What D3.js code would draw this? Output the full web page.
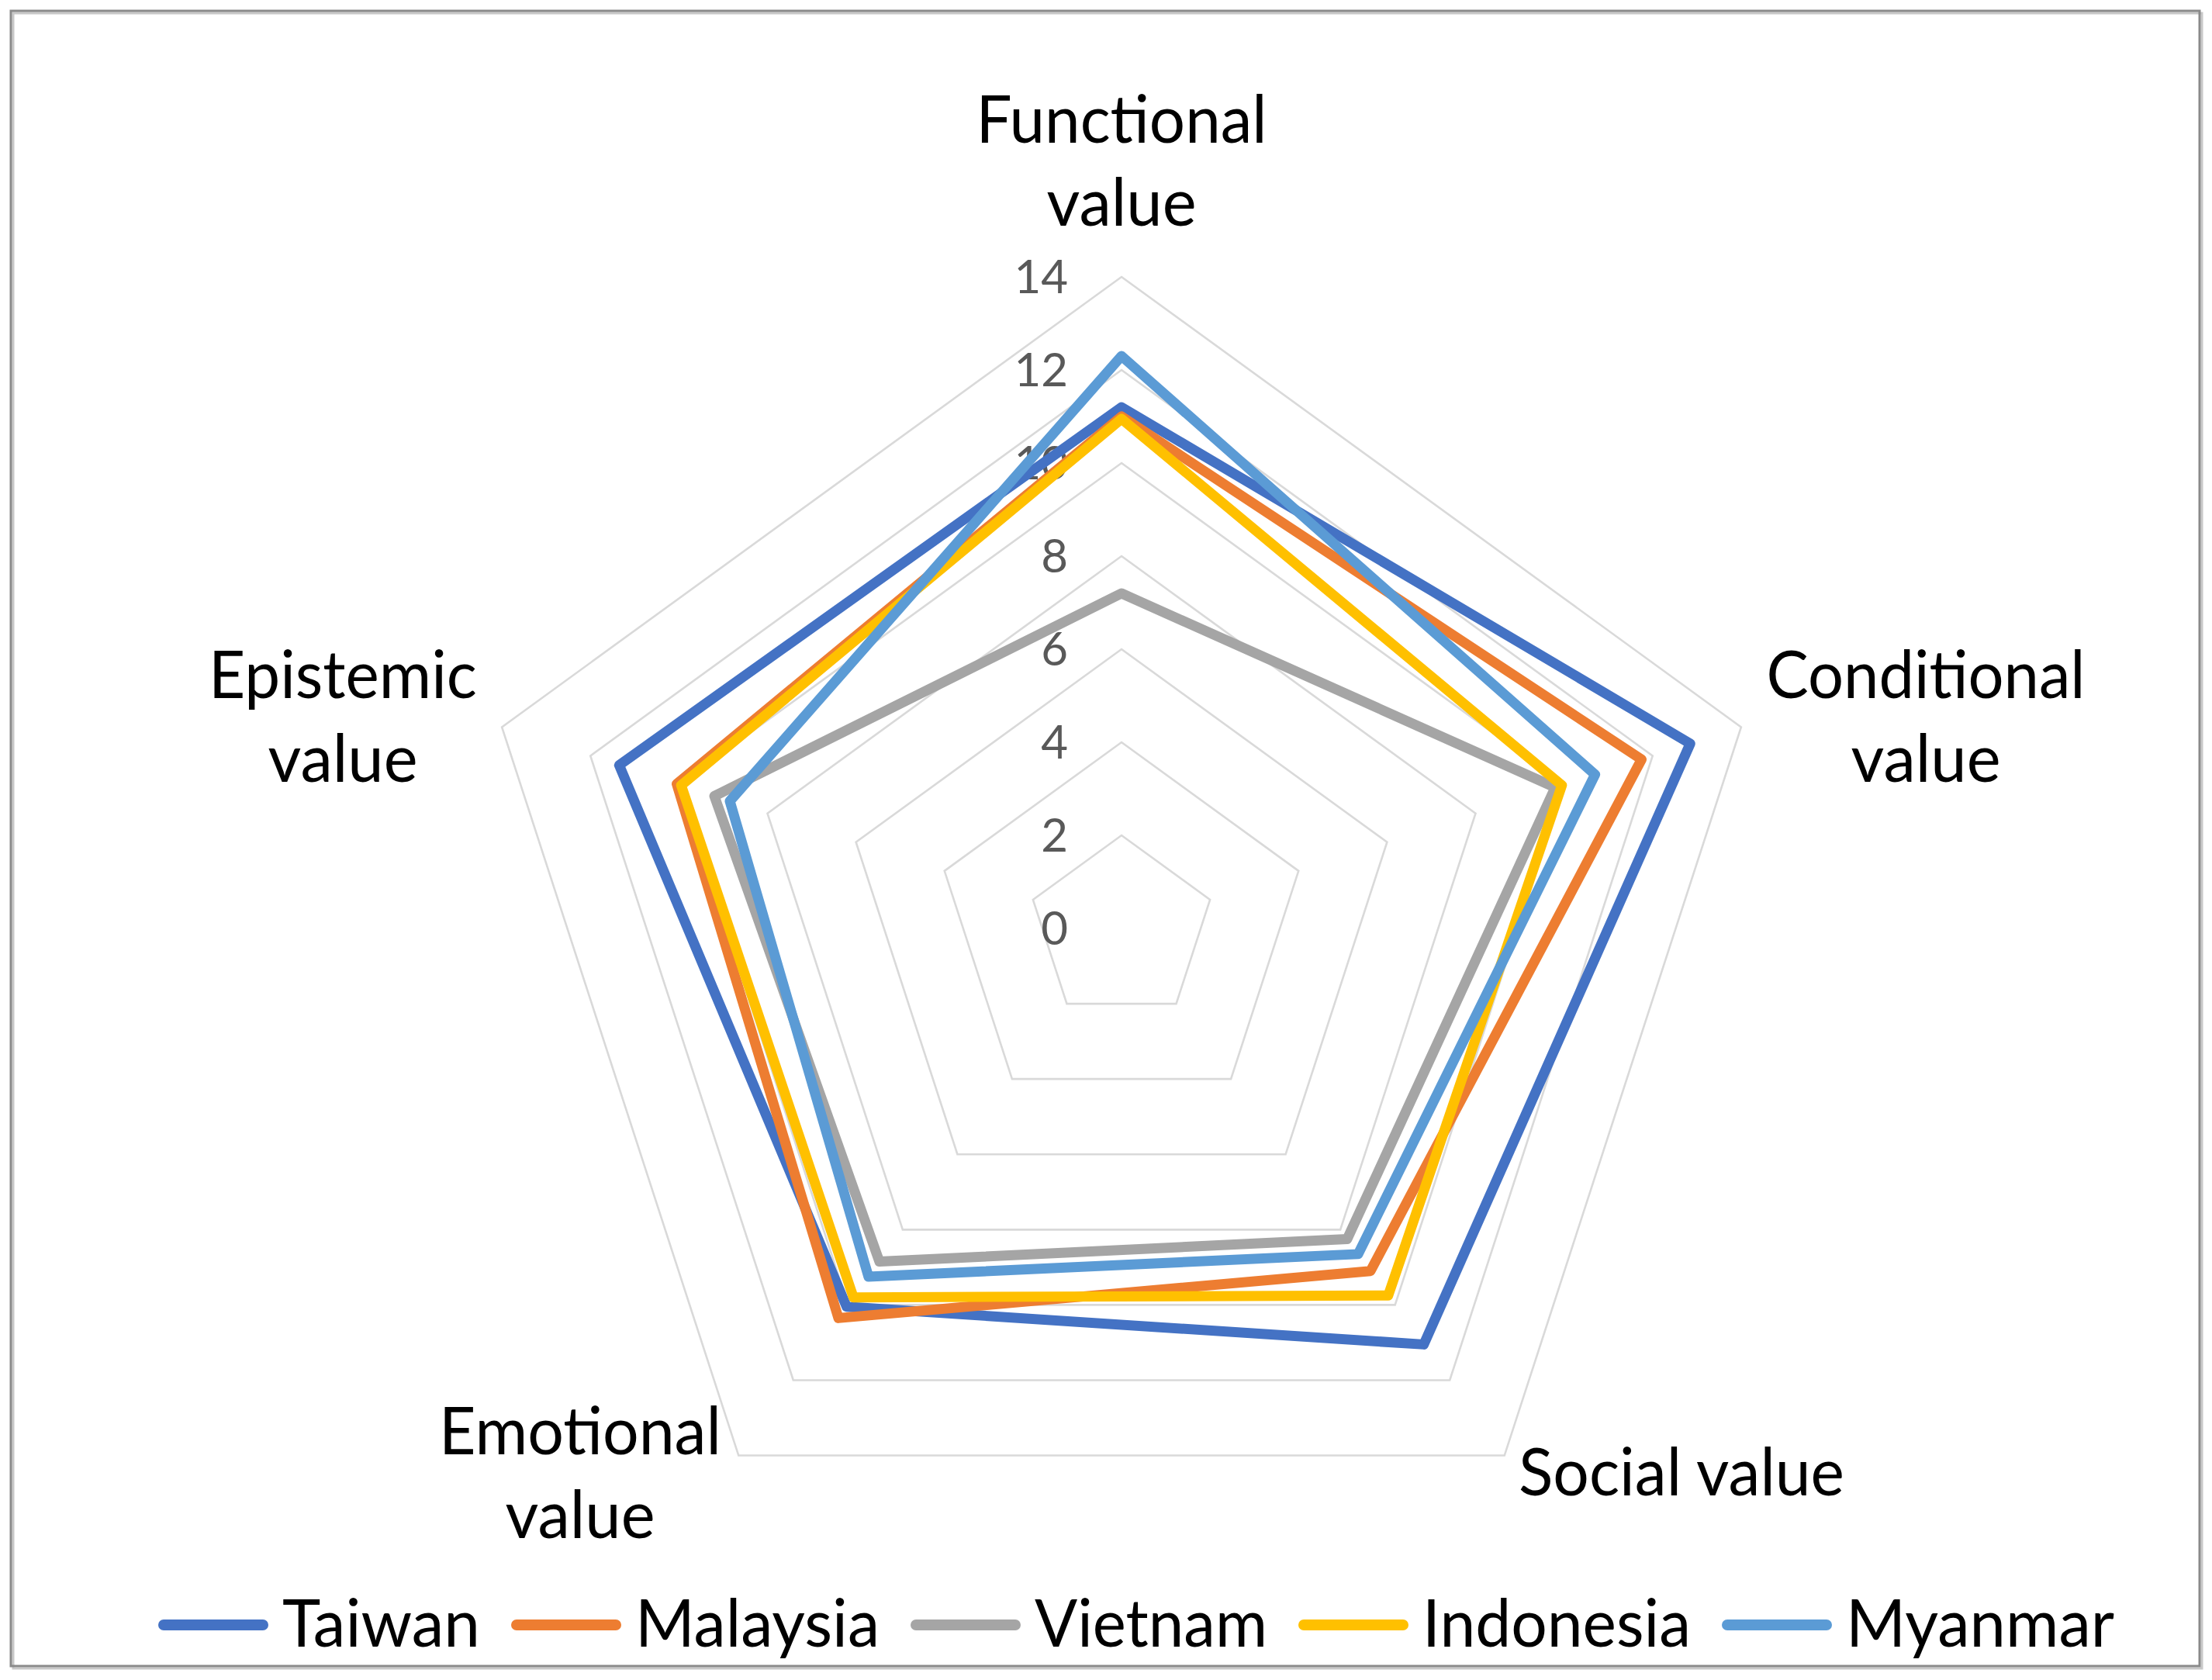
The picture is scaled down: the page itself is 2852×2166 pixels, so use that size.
<!DOCTYPE html>
<html>
<head>
<meta charset="utf-8">
<script src="https://cdn.jsdelivr.net/npm/d3@7"></script>
<style>
  html, body { margin: 0; padding: 0; background: #fff; }
  svg { display: block; }
</style>
</head>
<body>
<svg id="chart" width="2852" height="2166"></svg>
<script>
// ---- data ----
const categories = ["Functional value", "Conditional value", "Social value", "Emotional value", "Epistemic value"];
const seriesNames = ["Taiwan", "Malaysia", "Vietnam", "Indonesia", "Myanmar"];
const taiwan    = [11.2, 12.85, 11.05, 10.05, 11.35];
const malaysia  = [11.0, 11.75, 9.1, 10.35, 10.05];
const vietnam   = [7.2, 9.8, 8.25, 8.85, 9.2];
const indonesia = [10.95, 9.95, 9.75, 9.8, 9.95];
const myanmar   = [12.3, 10.7, 8.65, 9.25, 8.85];
const tickValues = [0, 2, 4, 6, 8, 10, 12, 14];
const colors = ["#4472C4", "#ED7D31", "#A5A5A5", "#FFC000", "#5B9BD5"];

const seriesValues = [taiwan, malaysia, vietnam, indonesia, myanmar];

// ---- layout ----
const W = 2852, H = 2166;
const cx = 1446, cy = 1197;
const R = 840;
const svg = d3.select("#chart");
const FONT = "Lato, 'Open Sans', sans-serif";

svg.append("rect").attr("x", 0).attr("y", 0).attr("width", W).attr("height", H).attr("fill", "#fff");
// border with light shadow
svg.append("rect").attr("x", 17).attr("y", 17).attr("width", 2822).attr("height", 2134)
  .attr("fill", "none").attr("stroke", "#c8c8c8").attr("stroke-width", 3);
svg.append("rect").attr("x", 14).attr("y", 14).attr("width", 2822).attr("height", 2134)
  .attr("fill", "none").attr("stroke", "#8a8a8a").attr("stroke-width", 3);

const r = d3.scaleLinear().domain([0, 14]).range([0, R]);
const angle = d3.scalePoint().domain(d3.range(categories.length)).range([0, 2 * Math.PI * (categories.length - 1) / categories.length]);

const g = svg.append("g").attr("transform", `translate(${cx},${cy})`);

// grid pentagons
const gridLine = d3.lineRadial().angle((d, i) => angle(i)).radius(d => r(d)).curve(d3.curveLinearClosed);
g.selectAll("path.grid").data(tickValues.filter(t => t > 0)).enter().append("path")
  .attr("class", "grid")
  .attr("d", t => gridLine(categories.map(() => t)))
  .attr("fill", "none").attr("stroke", "#d9d9d9").attr("stroke-width", 2.6);

// tick labels
g.selectAll("text.tick").data(tickValues).enter().append("text")
  .attr("class", "tick")
  .attr("x", -69).attr("y", t => -r(t))
  .attr("dy", "0.35em")
  .attr("text-anchor", "end")
  .attr("font-family", FONT).attr("font-size", 60).attr("fill", "#595959")
  .text(t => t);

// series
const seriesLine = d3.lineRadial().angle((d, i) => angle(i)).radius(d => r(d)).curve(d3.curveLinearClosed);
g.selectAll("path.series").data(seriesValues).enter().append("path")
  .attr("class", "series")
  .attr("d", d => seriesLine(d))
  .attr("fill", "none")
  .attr("stroke", (d, i) => colors[i])
  .attr("stroke-width", 13)
  .attr("stroke-linejoin", "round");

// category labels (two lines where wrapped)
const labelSpec = [
  { lines: ["Functional", "value"], x: 1446, y: [184, 291], w: [375, 193] },
  { lines: ["Conditional", "value"], x: 2483, y: [900, 1008], w: [411, 193] },
  { lines: ["Social value"], x: 2168, y: [1928], w: [420] },
  { lines: ["Emotional", "value"], x: 748, y: [1875, 1983], w: [364, 193] },
  { lines: ["Epistemic", "value"], x: 442, y: [900, 1008], w: [346, 193] }
];
labelSpec.forEach((s, i) => {
  s.lines.forEach((ln, j) => {
    svg.append("text")
      .attr("x", s.x).attr("y", s.y[j])
      .attr("text-anchor", "middle")
      .attr("font-family", FONT).attr("font-size", 86).attr("fill", "#000")
      .attr("textLength", s.w[j]).attr("lengthAdjust", "spacingAndGlyphs")
      .text(ln);
  });
});

// legend
const legendTextW = [255, 315, 300, 346, 346];
const legendY = 2095;
let lx = 204;
seriesNames.forEach((name, i) => {
  svg.append("line")
    .attr("x1", lx + 7).attr("x2", lx + 135).attr("y1", legendY).attr("y2", legendY)
    .attr("stroke", colors[i]).attr("stroke-width", 14).attr("stroke-linecap", "round");
  svg.append("text")
    .attr("x", lx + 160).attr("y", legendY + 28)
    .attr("font-family", FONT).attr("font-size", 86).attr("fill", "#000")
    .attr("textLength", legendTextW[i]).attr("lengthAdjust", "spacingAndGlyphs")
    .text(name);
  lx += 160 + legendTextW[i] + 40;
});
</script>
</body>
</html>
